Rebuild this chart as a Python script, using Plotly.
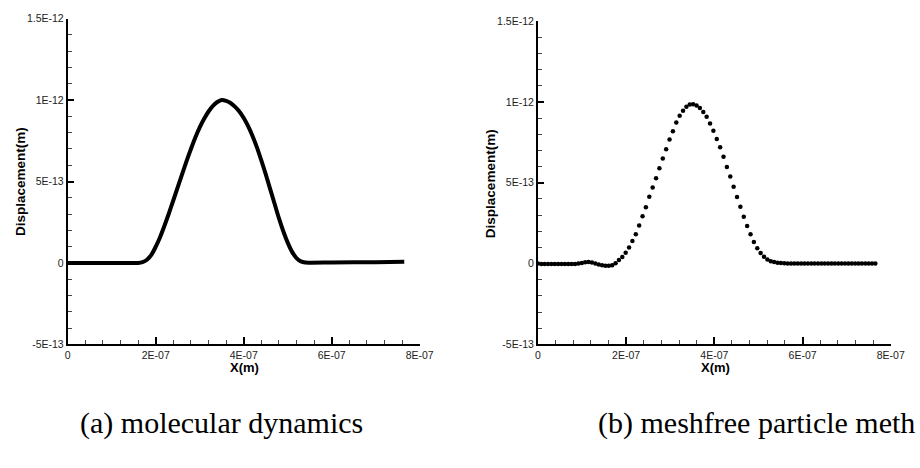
import plotly.graph_objects as go

# ---------------- data ----------------
# (a) molecular dynamics: x in 1E-07 m, displacement in 1E-13 m
md_x = [0.0, 1.0, 1.6, 1.7, 1.8, 1.9, 2.0, 2.1, 2.2, 2.3, 2.4, 2.5, 2.6, 2.7, 2.8,
        2.9, 3.0, 3.1, 3.2, 3.3, 3.4, 3.5, 3.6, 3.7, 3.8, 3.9, 4.0, 4.1, 4.2, 4.3,
        4.4, 4.5, 4.6, 4.7, 4.8, 4.9, 5.0, 5.1, 5.2, 5.3, 5.4, 5.5, 6.0, 7.0, 7.65]
md_y = [0.0, 0.0, 0.0, 0.05, 0.2, 0.5, 1.0, 1.6, 2.3, 3.05, 3.85, 4.65, 5.45, 6.25, 7.0,
        7.7, 8.32, 8.85, 9.3, 9.65, 9.88, 10.0, 9.95, 9.82, 9.6, 9.3, 8.9, 8.4, 7.8, 7.1,
        6.3, 5.45, 4.55, 3.65, 2.75, 1.95, 1.25, 0.68, 0.3, 0.1, 0.03, 0.02, 0.03, 0.05, 0.07]

# (b) meshfree particle method: particle x in nm, displacement in 1E-13 m
mf_x = [0.0, 7.7, 15.3, 23.0, 30.6, 38.3, 45.9, 53.6, 61.2, 68.9,
        76.5, 84.2, 91.8, 99.5, 107.1, 114.8, 122.4, 130.1, 137.7, 145.4,
        153.0, 160.7, 168.3, 176.0, 183.6, 191.3, 198.9, 206.6, 214.2, 221.9,
        229.5, 237.2, 244.8, 252.5, 260.1, 267.8, 275.4, 283.1, 290.7, 298.4,
        306.0, 313.7, 321.3, 329.0, 336.6, 344.3, 351.9, 359.6, 367.2, 374.9,
        382.5, 390.2, 397.8, 405.5, 413.1, 420.8, 428.4, 436.1, 443.7, 451.4,
        459.0, 466.7, 474.3, 482.0, 489.6, 497.3, 504.9, 512.6, 520.2, 527.9,
        535.5, 543.2, 550.8, 558.5, 566.1, 573.8, 581.4, 589.1, 596.7, 604.4,
        612.0, 619.7, 627.3, 635.0, 642.6, 650.3, 657.9, 665.6, 673.2, 680.9,
        688.5, 696.2, 703.8, 711.5, 719.1, 726.8, 734.4, 742.1, 749.7, 757.4,
        765.0]
mf_y = [0.0, -0.02, -0.03, -0.03, -0.03, -0.02, -0.02, -0.02, -0.02, -0.03,
        -0.03, -0.02, 0.0, 0.04, 0.08, 0.09, 0.06, 0.01, -0.05, -0.10,
        -0.13, -0.14, -0.10, 0.02, 0.22, 0.40, 0.67, 1.00, 1.40, 1.82,
        2.35, 2.93, 3.48, 4.13, 4.71, 5.28, 5.90, 6.50, 7.07, 7.68,
        8.18, 8.72, 9.15, 9.46, 9.70, 9.84, 9.86, 9.78, 9.63, 9.38,
        9.08, 8.66, 8.21, 7.70, 7.19, 6.61, 5.97, 5.38, 4.76, 4.12,
        3.52, 2.90, 2.33, 1.81, 1.33, 0.95, 0.65, 0.42, 0.25, 0.15,
        0.09, 0.05, 0.03, 0.02, 0.01, 0.01, 0.01, 0.01, 0.01, 0.01,
        0.01, 0.01, 0.01, 0.01, 0.01, 0.01, 0.0, 0.0, 0.0, 0.0,
        0.0, 0.0, 0.0, 0.0, 0.0, 0.0, 0.0, 0.0, 0.0, 0.0,
        0.0]

x_tickvals = [0, 2e-7, 4e-7, 6e-7, 8e-7]
x_ticktext = ["0", "2E-07", "4E-07", "6E-07", "8E-07"]
y_tickvals = [-5e-13, 0, 5e-13, 1e-12, 1.5e-12]
y_ticktext = ["-5E-13", "0", "5E-13", "1E-12", "1.5E-12"]

x_title = "X(m)"
y_title = "Displacement(m)"
captions = ["(a) molecular dynamics", "(b) meshfree particle meth"]

# unit conversion to metres
md_xm = [v * 1e-7 for v in md_x]
md_ym = [v * 1e-13 for v in md_y]
mf_xm = [v * 1e-9 for v in mf_x]
mf_ym = [v * 1e-13 for v in mf_y]

W, H = 920, 468
TICKFONT = dict(family="Liberation Sans, Arial, sans-serif", size=10.5, color="#222")

fig = go.Figure()
fig.add_trace(go.Scatter(x=md_xm, y=md_ym, mode="lines",
                         line=dict(color="black", width=4, shape="spline", smoothing=0.8),
                         xaxis="x", yaxis="y", showlegend=False, hoverinfo="skip"))
fig.add_trace(go.Scatter(x=mf_xm, y=mf_ym, mode="markers",
                         marker=dict(color="black", size=4.5),
                         xaxis="x2", yaxis="y2", showlegend=False, hoverinfo="skip"))


def xax(domain, anchor):
    return dict(domain=domain, anchor=anchor, range=[0, 8e-7],
                showline=True, linecolor="black", linewidth=2,
                ticks="inside", ticklen=7, tickwidth=2, tickcolor="black",
                tickmode="array", tickvals=x_tickvals, ticktext=x_ticktext,
                tickfont=TICKFONT, showgrid=False, zeroline=False,
                minor=dict(ticks="inside", ticklen=4, tickwidth=1, tickcolor="#444",
                           tickmode="linear", tick0=0, dtick=4e-8, showgrid=False),
                fixedrange=True)


def yax(domain, anchor):
    return dict(domain=domain, anchor=anchor, range=[-5e-13, 1.5e-12],
                showline=True, linecolor="black", linewidth=2,
                ticks="inside", ticklen=6, tickwidth=2, tickcolor="black",
                tickmode="array", tickvals=y_tickvals, ticktext=y_ticktext,
                tickfont=TICKFONT, showgrid=False, zeroline=False,
                minor=dict(ticks="inside", ticklen=4, tickwidth=1, tickcolor="#444",
                           tickmode="linear", tick0=0, dtick=1e-13, showgrid=False),
                fixedrange=True)


# pixel geometry of the two plot areas
L1, R1, T1, B1 = 66, 424.5, 13, 347.3
L2, R2, T2, B2 = 545, 904.5, 15.5, 347.3

fig.update_layout(
    width=W, height=H,
    margin=dict(l=0, r=0, t=0, b=0),
    paper_bgcolor="white", plot_bgcolor="white",
    xaxis=xax([L1 / W, R1 / W], "y"),
    yaxis=yax([(H - B1) / H, (H - T1) / H], "x"),
    xaxis2=xax([L2 / W, R2 / W], "y2"),
    yaxis2=yax([(H - B2) / H, (H - T2) / H], "x2"),
)

ann = []
TITLEFONT = dict(family="Liberation Sans, Arial, sans-serif", size=13, color="black")
for cx, cy in [(246, 371), (726, 371)]:
    ann.append(dict(text="<b>%s</b>" % x_title, x=cx / W, y=1 - cy / H, xref="paper", yref="paper",
                    xanchor="center", yanchor="middle", showarrow=False, font=TITLEFONT))
for cx, cy in [(18, 180), (497, 182)]:
    ann.append(dict(text="<b>%s</b>" % y_title, x=cx / W, y=1 - cy / H, xref="paper", yref="paper",
                    xanchor="center", yanchor="middle", textangle=-90, showarrow=False,
                    font=dict(TITLEFONT, size=13.5)))
CAPFONT = dict(family="Liberation Serif, Times New Roman, serif", size=30, color="black")
for cap, lx in zip(captions, [76, 604]):
    ann.append(dict(text=cap, x=lx / W, y=1 - 428 / H, xref="paper", yref="paper",
                    xanchor="left", yanchor="middle", showarrow=False, font=CAPFONT))
fig.update_layout(annotations=ann)

fig.write_html("out.html", config={"displayModeBar": False, "staticPlot": True},
               post_script="document.body.style.margin='0';document.body.style.overflow='hidden';")
